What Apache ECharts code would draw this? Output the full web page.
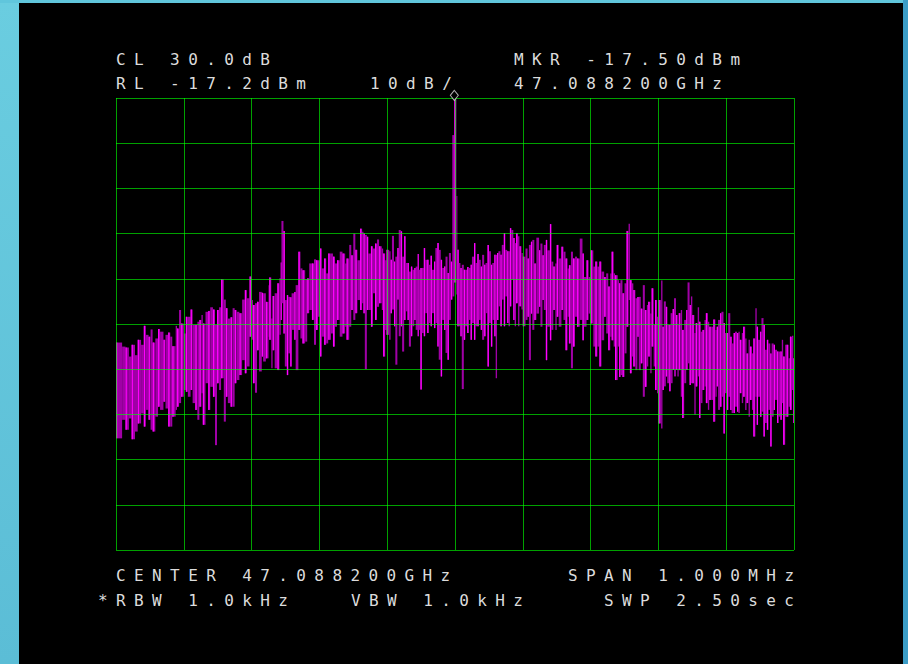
<!DOCTYPE html>
<html>
<head>
<meta charset="utf-8">
<script src="https://cdn.jsdelivr.net/npm/echarts@6/dist/echarts.min.js"></script>
<style>
html,body{margin:0;padding:0;background:#000;}
#chart{width:908px;height:664px;}
#chart text{letter-spacing:8.4px;}
</style>
</head>
<body>
<div id="chart"></div>
<script>
// Instrument settings
const referenceLevelDbm = -17.2;   // RL
const dbPerDiv = 10;
const spanKHz = 1000;              // 1.000 MHz span, centre 47.088200 GHz
const markerFreqKHz = -1;
const markerLevelDbm = -17.5;

// Trace: frequency offset from centre (kHz), upper and lower level of each column (dBm)
const freqKHz = [
 -500,-491,-486,-481,-477,-472,-468,-463,-459,-456,-452,-449,-446,-442,-438,-435,-430,-427,-423,-420,
 -417,-412,-410,-407,-404,-400,-397,-394,-390,-387,-383,-380,-377,-374,-372,-368,-364,-361,-357,-354,
 -351,-348,-345,-341,-338,-335,-331,-328,-325,-322,-318,-314,-310,-307,-303,-300,
 -298,-295,-292,-289,-285,-283,-279,-275,-274,-271,-269,-266,-262,-259,-257,-256,-253,-251,-248,-246,
 -243,-241,-237,-235,-231,-228,-225,-221,-218,-215,-211,-208,-205,-202,-199,-197,-193,-190,-187,-183,
 -180,-177,-174,-170,-166,-162,-160,-156,-153,-150,-147,-144,-140,-137,-135,-133,-130,-128,-124,-121,
 -118,-115,-112,-108,-106,-103,-101,
 -97,-95,-93,-90,-88,-85,-83,-80,-78,-75,-73,-70,-68,-65,-63,-60,-58,-55,-54,-51,
 -49,-46,-44,-41,-39,-36,-34,-31,-29,-26,-24,-21,-19,-16,-14,-11,-9,-6,
 -4,-1,2,
 3.5,5.5,8,10,13,15,18,20,23,25,28,30,33,35,38,40,43,45,48,50,
 53,55,58,60,62,64,67,69,72,74,77,79,81,83,86,88,90,93,95,98,100,
 104,107,109,112,114,117,120,124,126,129,131,134,136,140,142,145,148,150,153,157,160,
 163,166,168,171,174,177,180,184,188,190,194,197,200,204,207,210,213,216,220,223,
 226,229,231,234,236,240,242,244,247,250,253,256,258,261,263,266,269,271,274,277,
 280,283,285,288,290,293,295,298,300,
 304,306,308,311,313,316,318,321,323,326,328,330,333,335,338,341,343,346,348,350,
 353,355,358,360,362,365,368,370,373,375,378,381,384,386,388,391,393,396,398,401,
 403,406,408,411,413,416,418,420,423,425,428,430,433,435,438,440,443,445,447,450,
 452,455,457,460,462,465,467,470,472,475,477,480,482,484,487,489,492,494,497,499
];
const peakDbm = [
 -71.3,-72.2,-72.4,-74.4,-71.8,-74.1,-70.7,-71.8,-67.6,-69.6,-70.0,-68.4,-71.3,-70.4,-68.3,-68.9,-70.7,-69.6,-69.1,-70.0,
 -72.1,-67.6,-68.2,-64.1,-67.1,-69.3,-65.6,-65.6,-64.0,-67.4,-67.4,-66.7,-66.3,-65.2,-67.1,-64.5,-64.3,-63.5,-64.0,-67.4,
 -64.1,-63.5,-57.3,-61.8,-63.7,-66.0,-65.7,-63.7,-64.1,-64.5,-64.8,-61.8,-59.7,-61.5,-56.7,-61.9,
 -63.0,-62.6,-62.3,-60.1,-60.3,-60.4,-62.3,-58.6,-56.9,-66.0,-61.0,-60.4,-58.2,-57.1,-53.6,-44.4,-46.6,-61.9,-60.8,-61.2,
 -61.3,-60.4,-60.1,-58.6,-51.2,-54.9,-55.3,-57.3,-57.1,-53.8,-53.8,-52.9,-53.1,-53.1,-50.5,-54.9,-52.7,-56.0,-51.6,-51.6,
 -52.3,-53.8,-53.1,-51.2,-51.6,-53.8,-52.7,-49.7,-52.0,-47.2,-50.8,-53.1,-46.1,-46.8,-47.2,-47.5,-47.9,-51.6,-50.0,-50.5,
 -49.4,-48.5,-50.0,-50.5,-51.6,-53.1,-50.8,
 -51.1,-53.0,-47.7,-53.4,-52.3,-50.4,-46.4,-46.7,-52.3,-47.8,-53.7,-53.7,-55.6,-54.5,-55.2,-54.8,-54.5,-51.7,-55.2,-54.8,
 -54.8,-50.4,-53.0,-53.0,-54.1,-52.1,-55.2,-53.4,-50.4,-49.3,-50.8,-53.0,-54.8,-54.5,-52.3,-55.9,-51.5,-53.4,
 -25.4,-17.5,-38.9,
 -50.8,-53.7,-54.8,-54.1,-55.2,-55.2,-54.6,-54.8,-54.1,-52.3,-49.3,-53.7,-51.7,-53.0,-54.5,-51.9,-54.1,-53.7,-49.7,-51.1,
 -54.1,-53.7,-51.9,-51.9,-51.5,-51.1,-51.9,-49.7,-47.1,-50.8,-51.1,-51.1,-46.0,-46.4,-48.2,-49.3,-47.1,-47.8,-50.0,-51.5,-52.3,
 -50.5,-52.7,-49.7,-49.0,-48.6,-53.8,-48.1,-50.9,-49.4,-52.0,-49.7,-48.6,-50.9,-45.1,-53.4,-54.5,-53.8,-49.7,-52.7,-50.1,-51.2,
 -52.7,-54.9,-54.2,-51.2,-52.7,-52.3,-52.7,-48.3,-51.6,-56.8,-53.1,-56.8,-50.9,-54.5,-53.4,-54.5,-53.4,-55.6,-56.8,-56.0,
 -58.9,-56.0,-51.2,-56.0,-56.4,-57.5,-58.2,-57.5,-60.4,-58.2,-46.6,-45.0,-57.5,-58.2,-59.7,-61.5,-61.2,-61.2,-63.8,-58.6,
 -64.1,-63.0,-62.3,-64.9,-59.3,-67.4,-61.9,-65.6,-61.9,
 -57.6,-67.8,-62.2,-63.4,-67.4,-67.4,-64.8,-63.9,-61.5,-65.2,-67.4,-64.8,-64.1,-68.5,-66.3,-64.1,-58.0,-63.0,-61.1,-65.2,
 -69.2,-67.0,-63.5,-66.7,-68.9,-68.5,-66.3,-64.8,-66.7,-67.8,-67.8,-66.2,-68.5,-67.8,-66.3,-64.8,-64.5,-67.0,-69.2,-69.2,
 -64.8,-70.0,-71.5,-69.2,-68.9,-69.2,-68.9,-70.7,-69.2,-67.8,-70.4,-73.7,-70.7,-72.2,-73.7,-70.4,-63.7,-67.8,-70.7,-68.9,
 -65.9,-67.4,-72.9,-70.7,-71.5,-73.7,-71.5,-71.8,-72.9,-73.3,-73.3,-73.3,-70.7,-74.4,-71.8,-71.8,-74.8,-70.0,-69.8,-74.8
];
const floorDbm = [
 -92.5,-88.4,-90.6,-88.1,-92.7,-91.0,-89.2,-87.0,-89.9,-86.2,-88.4,-90.6,-91.0,-87.7,-85.5,-86.2,-84.4,-85.9,-89.9,-89.9,
 -87.7,-86.2,-85.5,-84.7,-83.3,-81.8,-82.2,-83.3,-81.8,-84.7,-86.2,-88.4,-85.5,-82.5,-89.5,-80.3,-86.2,-81.1,-83.3,-94.0,
 -80.3,-81.8,-79.2,-88.8,-83.3,-84.7,-85.5,-85.5,-80.3,-79.6,-78.5,-75.2,-78.1,-76.6,-70.0,-70.7,
 -80.3,-82.4,-73.0,-77.7,-74.4,-75.5,-74.8,-70.0,-70.7,-77.0,-73.0,-77.0,-77.4,-69.6,-66.3,-62.6,-69.3,-76.6,-78.5,-73.7,
 -76.6,-68.5,-70.7,-77.4,-68.5,-70.4,-71.5,-71.1,-64.8,-64.1,-66.3,-71.8,-68.5,-65.6,-74.4,-70.0,-71.8,-71.5,-70.7,-69.3,
 -72.2,-67.8,-66.3,-70.0,-69.3,-67.8,-70.7,-67.8,-64.1,-66.3,-64.8,-61.9,-64.1,-62.6,-64.8,-77.2,-64.1,-64.1,-67.8,-60.4,
 -66.3,-63.4,-62.6,-64.1,-74.4,-68.5,-69.6,
 -70.7,-64.8,-64.0,-67.7,-76.2,-61.8,-69.9,-67.7,-73.3,-66.3,-64.4,-66.3,-72.2,-69.9,-67.7,-66.3,-68.5,-69.9,-68.5,-81.7,
 -69.2,-69.9,-64.8,-69.2,-67.0,-67.7,-64.8,-68.1,-67.0,-72.2,-75.1,-78.8,-66.3,-68.5,-73.6,-75.1,-66.3,-61.8,
 -61.1,-58.0,-60.7,
 -67.7,-67.7,-69.9,-81.6,-70.7,-67.7,-69.2,-66.3,-70.7,-67.0,-70.7,-67.7,-67.7,-66.3,-68.5,-70.7,-69.9,-64.8,-76.6,-67.0,
 -72.2,-66.3,-69.9,-79.2,-66.3,-63.3,-67.7,-61.8,-67.7,-61.1,-67.0,-67.7,-63.3,-57.4,-66.3,-67.7,-62.6,-67.7,-63.3,-64.0,-67.7,
 -66.3,-65.6,-75.2,-64.9,-68.5,-66.3,-64.9,-63.4,-67.8,-61.9,-64.1,-75.2,-67.8,-70.8,-68.5,-64.1,-68.5,-65.6,-67.8,-64.1,-66.3,
 -73.0,-65.6,-71.5,-77.0,-72.2,-65.6,-67.8,-66.3,-70.8,-67.8,-66.3,-64.9,-67.1,-72.2,-74.4,-72.2,-76.6,-70.8,-65.6,-69.3,
 -73.0,-70.0,-70.8,-72.2,-79.6,-72.2,-78.9,-78.5,-78.9,-73.7,-67.8,-61.9,-78.1,-74.4,-76.6,-77.4,-70.0,-77.4,-75.9,-83.3,
 -81.1,-76.6,-74.4,-78.1,-72.2,-76.6,-81.8,-82.5,-89.2,
 -90.3,-81.8,-81.0,-78.8,-80.3,-82.1,-80.3,-77.4,-78.8,-77.4,-78.8,-77.4,-83.3,-88.0,-80.3,-77.4,-75.9,-80.7,-80.3,-80.3,
 -87.3,-81.0,-78.8,-88.0,-84.7,-81.8,-81.0,-84.7,-86.2,-84.0,-84.0,-88.8,-83.3,-81.0,-86.2,-85.5,-83.3,-91.4,-82.5,-86.2,
 -83.3,-86.2,-86.9,-86.9,-85.5,-86.6,-86.9,-82.5,-84.7,-83.3,-86.2,-84.7,-87.7,-84.0,-86.2,-92.1,-83.3,-89.5,-83.3,-87.7,
 -86.6,-92.1,-89.1,-90.6,-86.2,-94.3,-87.7,-86.2,-84.0,-89.1,-87.7,-88.4,-84.7,-93.9,-87.7,-87.7,-85.5,-86.2,-81.8,-89.1
];

// Screen annotations
const annotationTexts = [
 'CL 30.0dB', 'MKR -17.50dBm',
 'RL -17.2dBm', '10dB/', '47.088200GHz',
 'CENTER 47.088200GHz', 'SPAN 1.000MHz',
 '*RBW 1.0kHz', 'VBW 1.0kHz', 'SWP 2.50sec'
];
const annotationPos = [
 [116,59],[514,59],
 [116,83],[370,83],[514,83],
 [116,575],[568,575],
 [98,600],[351,600],[604,600]
];

const n = Math.min(freqKHz.length, peakDbm.length, floorDbm.length);
const traceData = [];
for (let i = 0; i < n; i++) {
  const next = i + 1 < n ? freqKHz[i + 1] : freqKHz[i] + 1.5;
  traceData.push([freqKHz[i], peakDbm[i] - referenceLevelDbm, floorDbm[i] - referenceLevelDbm, next]);
}

const chart = echarts.init(document.getElementById('chart'), null, {renderer: 'svg'});

const gridLine = {show: true, lineStyle: {color: 'rgba(0,255,0,0.63)', width: 1}};
const textFont = '16px "DejaVu Sans Mono"';

const graphics = [
 {type: 'rect', x: 0, y: 0, shape: {width: 19, height: 664}, style: {fill: new echarts.graphic.LinearGradient(0,0,0,1,[{offset:0,color:'#6acde0'},{offset:1,color:'#5bbdd6'}])}, z: -10},
 {type: 'rect', x: 0, y: 0, shape: {width: 908, height: 3}, style: {fill: '#60c6dc'}, z: -10},
 {type: 'rect', x: 903, y: 0, shape: {width: 5, height: 664}, style: {fill: '#3c9dc7'}, z: -10}
];
annotationTexts.forEach((t, i) => {
  graphics.push({
    type: 'text', x: annotationPos[i][0], y: annotationPos[i][1], z: 10,
    style: {text: t, fill: '#dcdcdc', font: textFont, verticalAlign: 'middle', textVerticalAlign: 'middle', align: 'left'}
  });
});

chart.setOption({
  backgroundColor: '#000',
  animation: false,
  grid: {left: 116, top: 98, width: 678, height: 452, show: false},
  xAxis: {
    type: 'value', min: -spanKHz / 2, max: spanKHz / 2, interval: spanKHz / 10, z: 5,
    axisLine: {show: false}, axisTick: {show: false}, axisLabel: {show: false},
    splitLine: gridLine
  },
  yAxis: {
    type: 'value', min: -10 * dbPerDiv, max: 0, interval: dbPerDiv, z: 5,
    axisLine: {show: false}, axisTick: {show: false}, axisLabel: {show: false},
    splitLine: gridLine
  },
  graphic: graphics,
  series: [
    {
      type: 'custom',
      z: 2,
      clip: true,
      data: traceData,
      renderItem: function (params, api) {
        const f = api.value(0), hi = api.value(1), lo = api.value(2), fn = api.value(3);
        const top = api.coord([f, hi]);
        const bot = api.coord([f, lo]);
        const nx = api.coord([fn, lo])[0];
        const w = Math.max(1, nx - top[0]);
        const h = Math.max(1, bot[1] - top[1]);
        const children = [
          {type: 'rect', shape: {x: top[0], y: top[1], width: w, height: h}, style: {fill: '#a000a6'}}
        ];
        if (params.dataIndex % 2 === 0) {
          children.push({type: 'rect', shape: {x: top[0], y: top[1], width: Math.min(1.3, w), height: h}, style: {fill: '#ff00ff'}});
        }
        return {type: 'group', children: children};
      }
    },
    {
      type: 'scatter',
      z: 6,
      clip: false,
      silent: true,
      symbol: 'diamond',
      symbolSize: [8, 10],
      symbolOffset: [0, -4],
      itemStyle: {color: '#000', borderColor: '#dcdcdc', borderWidth: 1},
      data: [[markerFreqKHz, markerLevelDbm - referenceLevelDbm]]
    }
  ]
});
</script>
</body>
</html>
